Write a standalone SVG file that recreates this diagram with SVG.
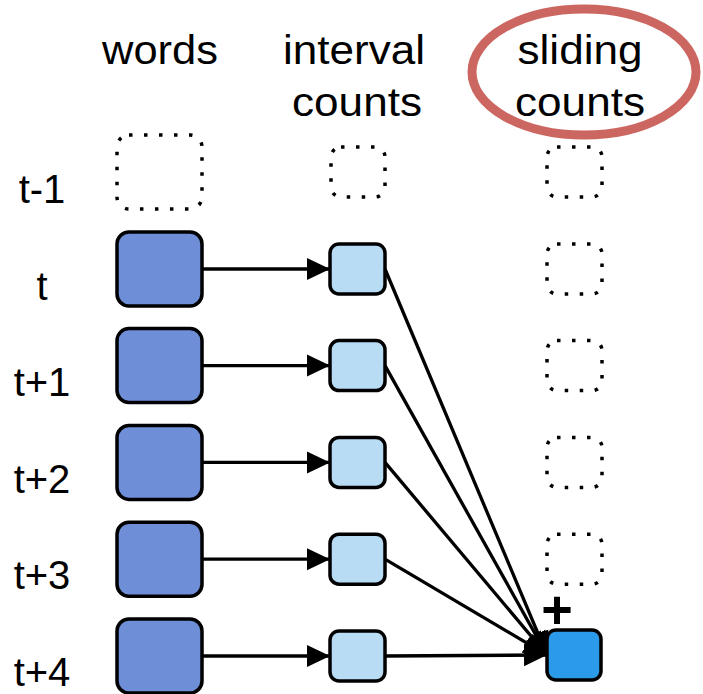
<svg xmlns="http://www.w3.org/2000/svg" width="703" height="694" viewBox="0 0 703 694">
<style>
text{font-family:"Liberation Sans",Arial,sans-serif;fill:#000}
.hdr{font-size:40px;text-anchor:middle}
.lbl{font-size:40px;text-anchor:middle}
.word{fill:#6f8ed8;stroke:#000;stroke-width:3.5}
.intv{fill:#b9dcf5;stroke:#000;stroke-width:3.5}
.sum{fill:#2b9ae8;stroke:#000;stroke-width:3.5}
.dot{fill:none;stroke:#000;stroke-width:3.5;stroke-dasharray:3.5 11.5}
.edge{fill:none;stroke:#000;stroke-width:3.3;marker-end:url(#ah)}
</style>
<defs>
<marker id="ah" markerUnits="userSpaceOnUse" markerWidth="24" markerHeight="24" viewBox="0 0 24 24" refX="23" refY="12" orient="auto">
<path d="M0,1 L23,12 L0,23 Z" fill="#000"/>
</marker>
</defs>
<rect width="703" height="694" fill="#fff"/>
<g id="headers">
<text class="hdr" x="160" y="64" textLength="116" lengthAdjust="spacingAndGlyphs">words</text>
<text class="hdr" x="354" y="64" textLength="142" lengthAdjust="spacingAndGlyphs">interval</text>
<text class="hdr" x="357" y="116" textLength="130" lengthAdjust="spacingAndGlyphs">counts</text>
<text class="hdr" x="580" y="64" textLength="125" lengthAdjust="spacingAndGlyphs">sliding</text>
<text class="hdr" x="580" y="116" textLength="130" lengthAdjust="spacingAndGlyphs">counts</text>
<ellipse cx="584" cy="72" rx="112" ry="63" fill="none" stroke="#cc6660" stroke-width="9"/>
</g>
<g id="labels">
<text class="lbl" x="42" y="203">t-1</text>
<text class="lbl" x="42" y="299.5">t</text>
<text class="lbl" x="42" y="396">t+1</text>
<text class="lbl" x="42" y="492.5">t+2</text>
<text class="lbl" x="42" y="589">t+3</text>
<text class="lbl" x="42" y="685.5">t+4</text>
</g>
<g id="row-tm1">
<rect id="w-tm1" class="dot" x="117" y="135" width="85" height="74" rx="12"/>
<rect id="i-tm1" class="dot" x="331" y="147" width="54" height="50" rx="10"/>
<rect id="s-tm1" class="dot" x="547" y="147" width="55" height="50" rx="10"/>
</g>
<g id="row-t">
<rect id="w-t" class="word" x="117" y="232" width="85" height="74" rx="12"/>
<rect id="i-t" class="intv" x="330" y="244" width="55" height="50" rx="9"/>
<rect id="s-t" class="dot" x="547" y="244" width="55" height="50" rx="10"/>
</g>
<g id="row-t1">
<rect id="w-t1" class="word" x="117" y="328.6" width="85" height="74" rx="12"/>
<rect id="i-t1" class="intv" x="330" y="340.6" width="55" height="50" rx="9"/>
<rect id="s-t1" class="dot" x="547" y="340.6" width="55" height="50" rx="10"/>
</g>
<g id="row-t2">
<rect id="w-t2" class="word" x="117" y="425.4" width="85" height="74" rx="12"/>
<rect id="i-t2" class="intv" x="330" y="437.4" width="55" height="50" rx="9"/>
<rect id="s-t2" class="dot" x="547" y="437.4" width="55" height="50" rx="10"/>
</g>
<g id="row-t3">
<rect id="w-t3" class="word" x="117" y="522.2" width="85" height="74" rx="12"/>
<rect id="i-t3" class="intv" x="330" y="534.2" width="55" height="50" rx="9"/>
<rect id="s-t3" class="dot" x="547" y="534.2" width="55" height="50" rx="10"/>
</g>
<g id="row-t4">
<rect id="w-t4" class="word" x="117" y="619" width="85" height="74" rx="12"/>
<rect id="i-t4" class="intv" x="330" y="631" width="55" height="50" rx="9"/>
<rect id="s-t4" class="sum" x="547" y="630" width="54" height="50" rx="9"/>
<text x="557" y="628" font-size="54" font-weight="bold" text-anchor="middle">+</text>
</g>
<g id="connectors">
<line class="edge" x1="202" y1="269" x2="330" y2="269"/>
<line class="edge" x1="202" y1="365.6" x2="330" y2="365.6"/>
<line class="edge" x1="202" y1="462.4" x2="330" y2="462.4"/>
<line class="edge" x1="202" y1="559.2" x2="330" y2="559.2"/>
<line class="edge" x1="202" y1="656" x2="330" y2="656"/>
<line class="edge" x1="385" y1="269" x2="547" y2="655"/>
<line class="edge" x1="385" y1="365.6" x2="547" y2="655"/>
<line class="edge" x1="385" y1="462.4" x2="547" y2="655"/>
<line class="edge" x1="385" y1="559.2" x2="547" y2="655"/>
<line class="edge" x1="385" y1="656" x2="547" y2="655"/>
</g>
</svg>
